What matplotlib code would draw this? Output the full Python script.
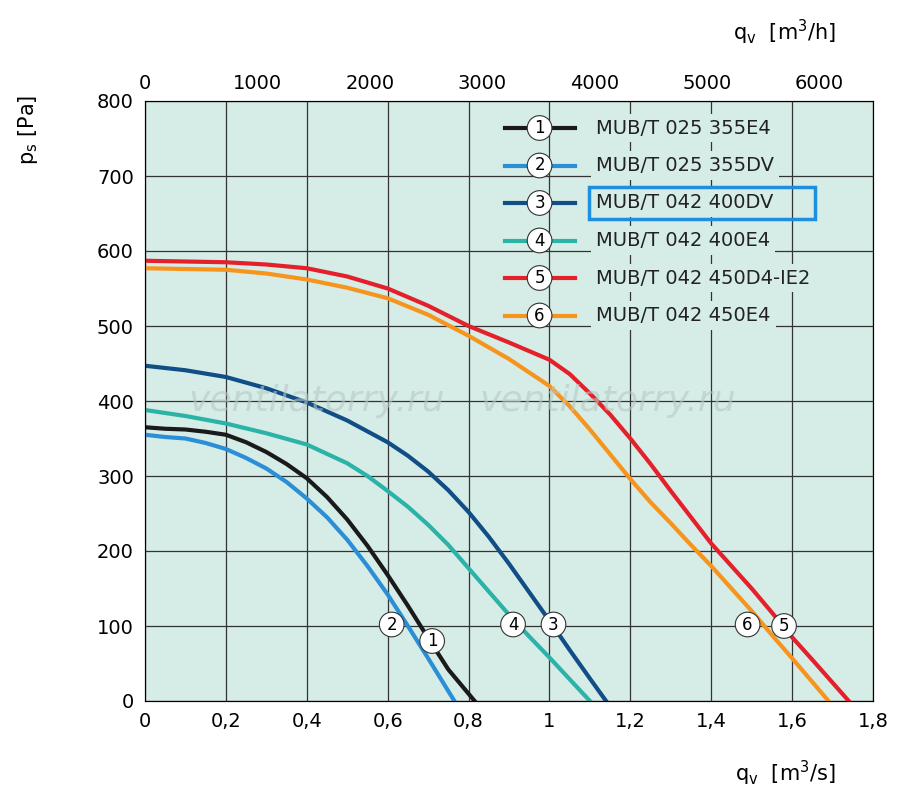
import matplotlib
matplotlib.use("Agg")
import matplotlib.pyplot as plt

names = ["MUB/T 025 355E4", "MUB/T 025 355DV", "MUB/T 042 400DV",
         "MUB/T 042 400E4", "MUB/T 042 450D4-IE2", "MUB/T 042 450E4"]
colors = ["#1a1a1a", "#2a8fd6", "#114d86", "#2ab3a6", "#e4202a", "#f7941d"]

q1 = [0, 0.05, 0.1, 0.15, 0.2, 0.25, 0.3, 0.35, 0.4, 0.45, 0.5, 0.55, 0.6, 0.65, 0.7, 0.75, 0.815]
p1 = [365, 363, 362, 359, 355, 345, 332, 316, 297, 272, 242, 207, 168, 127, 84, 42, 0]
q2 = [0, 0.05, 0.1, 0.15, 0.2, 0.25, 0.3, 0.35, 0.4, 0.45, 0.5, 0.55, 0.6, 0.65, 0.7, 0.765]
p2 = [355, 352, 350, 344, 336, 324, 310, 292, 270, 245, 215, 180, 142, 100, 57, 0]
q3 = [0, 0.1, 0.2, 0.3, 0.4, 0.5, 0.6, 0.65, 0.7, 0.75, 0.8, 0.85, 0.9, 0.95, 1.0, 1.05, 1.1, 1.14]
p3 = [447, 441, 432, 417, 398, 374, 345, 327, 306, 281, 252, 219, 183, 145, 107, 68, 30, 0]
q4 = [0, 0.1, 0.2, 0.3, 0.4, 0.5, 0.55, 0.6, 0.65, 0.7, 0.75, 0.8, 0.85, 0.9, 0.95, 1.0, 1.05, 1.1]
p4 = [388, 380, 370, 357, 342, 317, 300, 280, 259, 235, 208, 177, 146, 115, 86, 58, 29, 0]
q5 = [0, 0.1, 0.2, 0.3, 0.4, 0.5, 0.6, 0.7, 0.8, 0.9, 1.0, 1.05, 1.1, 1.15, 1.2, 1.25, 1.3, 1.35, 1.4, 1.45, 1.5, 1.55, 1.6, 1.65, 1.74]
p5 = [587, 586, 585, 582, 577, 566, 550, 527, 500, 478, 455, 436, 410, 382, 350, 316, 280, 245, 210, 180, 150, 118, 85, 55, 0]
q6 = [0, 0.1, 0.2, 0.3, 0.4, 0.5, 0.6, 0.7, 0.8, 0.9, 1.0, 1.05, 1.1, 1.15, 1.2, 1.25, 1.3, 1.35, 1.4, 1.45, 1.5, 1.55, 1.6, 1.69]
p6 = [577, 576, 575, 570, 562, 551, 537, 515, 487, 456, 420, 393, 362, 329, 296, 265, 237, 208, 180, 150, 120, 88, 57, 0]
curves = [(q1, p1), (q2, p2), (q3, p3), (q4, p4), (q5, p5), (q6, p6)]
label_x = [0.71, 0.61, 1.01, 0.91, 1.58, 1.49]
label_y = [80, 102, 102, 102, 100, 102]

fig = plt.figure(figsize=(9, 8.06), dpi=100)
ax = fig.add_axes([145 / 900, 1 - 701 / 806, 728 / 900, 600 / 806])
ax.set_facecolor("#d6ece7")
ax.set_xlim(0, 1.8)
ax.set_ylim(0, 800)
ax.set_xticks([i * 0.2 for i in range(10)])
ax.set_xticklabels(["0", "0,2", "0,4", "0,6", "0,8", "1", "1,2", "1,4", "1,6", "1,8"])
ax.set_yticks(range(0, 801, 100))
ax.grid(color="#333333", lw=0.9)
ax.tick_params(labelsize=14, length=0, pad=8)
for s in ax.spines.values():
    s.set_color("#333333")

for (q, p), c in zip(curves, colors):
    ax.plot(q, p, color=c, lw=3, zorder=3)
for i, (x, y) in enumerate(zip(label_x, label_y)):
    ax.text(x, y, str(i + 1), ha="center", va="center", fontsize=12, zorder=5,
            bbox=dict(boxstyle="circle,pad=0.2", fc="white", ec="#333333", lw=0.8))

# legend
for i, (n, c) in enumerate(zip(names, colors)):
    yy = 0.955 - i * 0.0625
    ax.plot([0.495, 0.59], [yy, yy], color=c, lw=3, transform=ax.transAxes, zorder=5)
    ax.text(0.542, yy, str(i + 1), ha="center", va="center", fontsize=12,
            transform=ax.transAxes, zorder=6,
            bbox=dict(boxstyle="circle,pad=0.2", fc="white", ec="#333333", lw=0.8))
    ax.text(0.62, yy, n, ha="left", va="center", fontsize=14, color="#222222",
            transform=ax.transAxes, zorder=6,
            bbox=dict(boxstyle="square,pad=0.25", fc="#d6ece7", ec="none"))
    if i == 2:
        ax.add_patch(plt.Rectangle((0.61, yy - 0.027), 0.31, 0.054,
                                   transform=ax.transAxes, fc="none",
                                   ec="#1e8ee0", lw=2.5, zorder=7))

for xw in [0.06, 0.46]:
    ax.text(xw, 0.5, "ventilatorry.ru", transform=ax.transAxes, fontsize=26,
            style="italic", color="#b8c8c4", alpha=0.6, ha="left", va="center", zorder=4)

top = ax.twiny()
top.set_xlim(0, 1.8 * 3600)
top.set_xticks(range(0, 6001, 1000))
top.tick_params(labelsize=14, length=0, pad=6)

fig.text(28 / 900, 1 - 130 / 806, "p$_{\\rm s}$ [Pa]", fontsize=15, rotation=90,
         ha="center", va="center")
fig.text(735 / 900, 1 - 773 / 806, "q$_{\\rm v}$  [m$^3$/s]", fontsize=15, va="center")
fig.text(733 / 900, 1 - 32 / 806, "q$_{\\rm v}$  [m$^3$/h]", fontsize=15, va="center")

fig.savefig("out.png", facecolor="white")
